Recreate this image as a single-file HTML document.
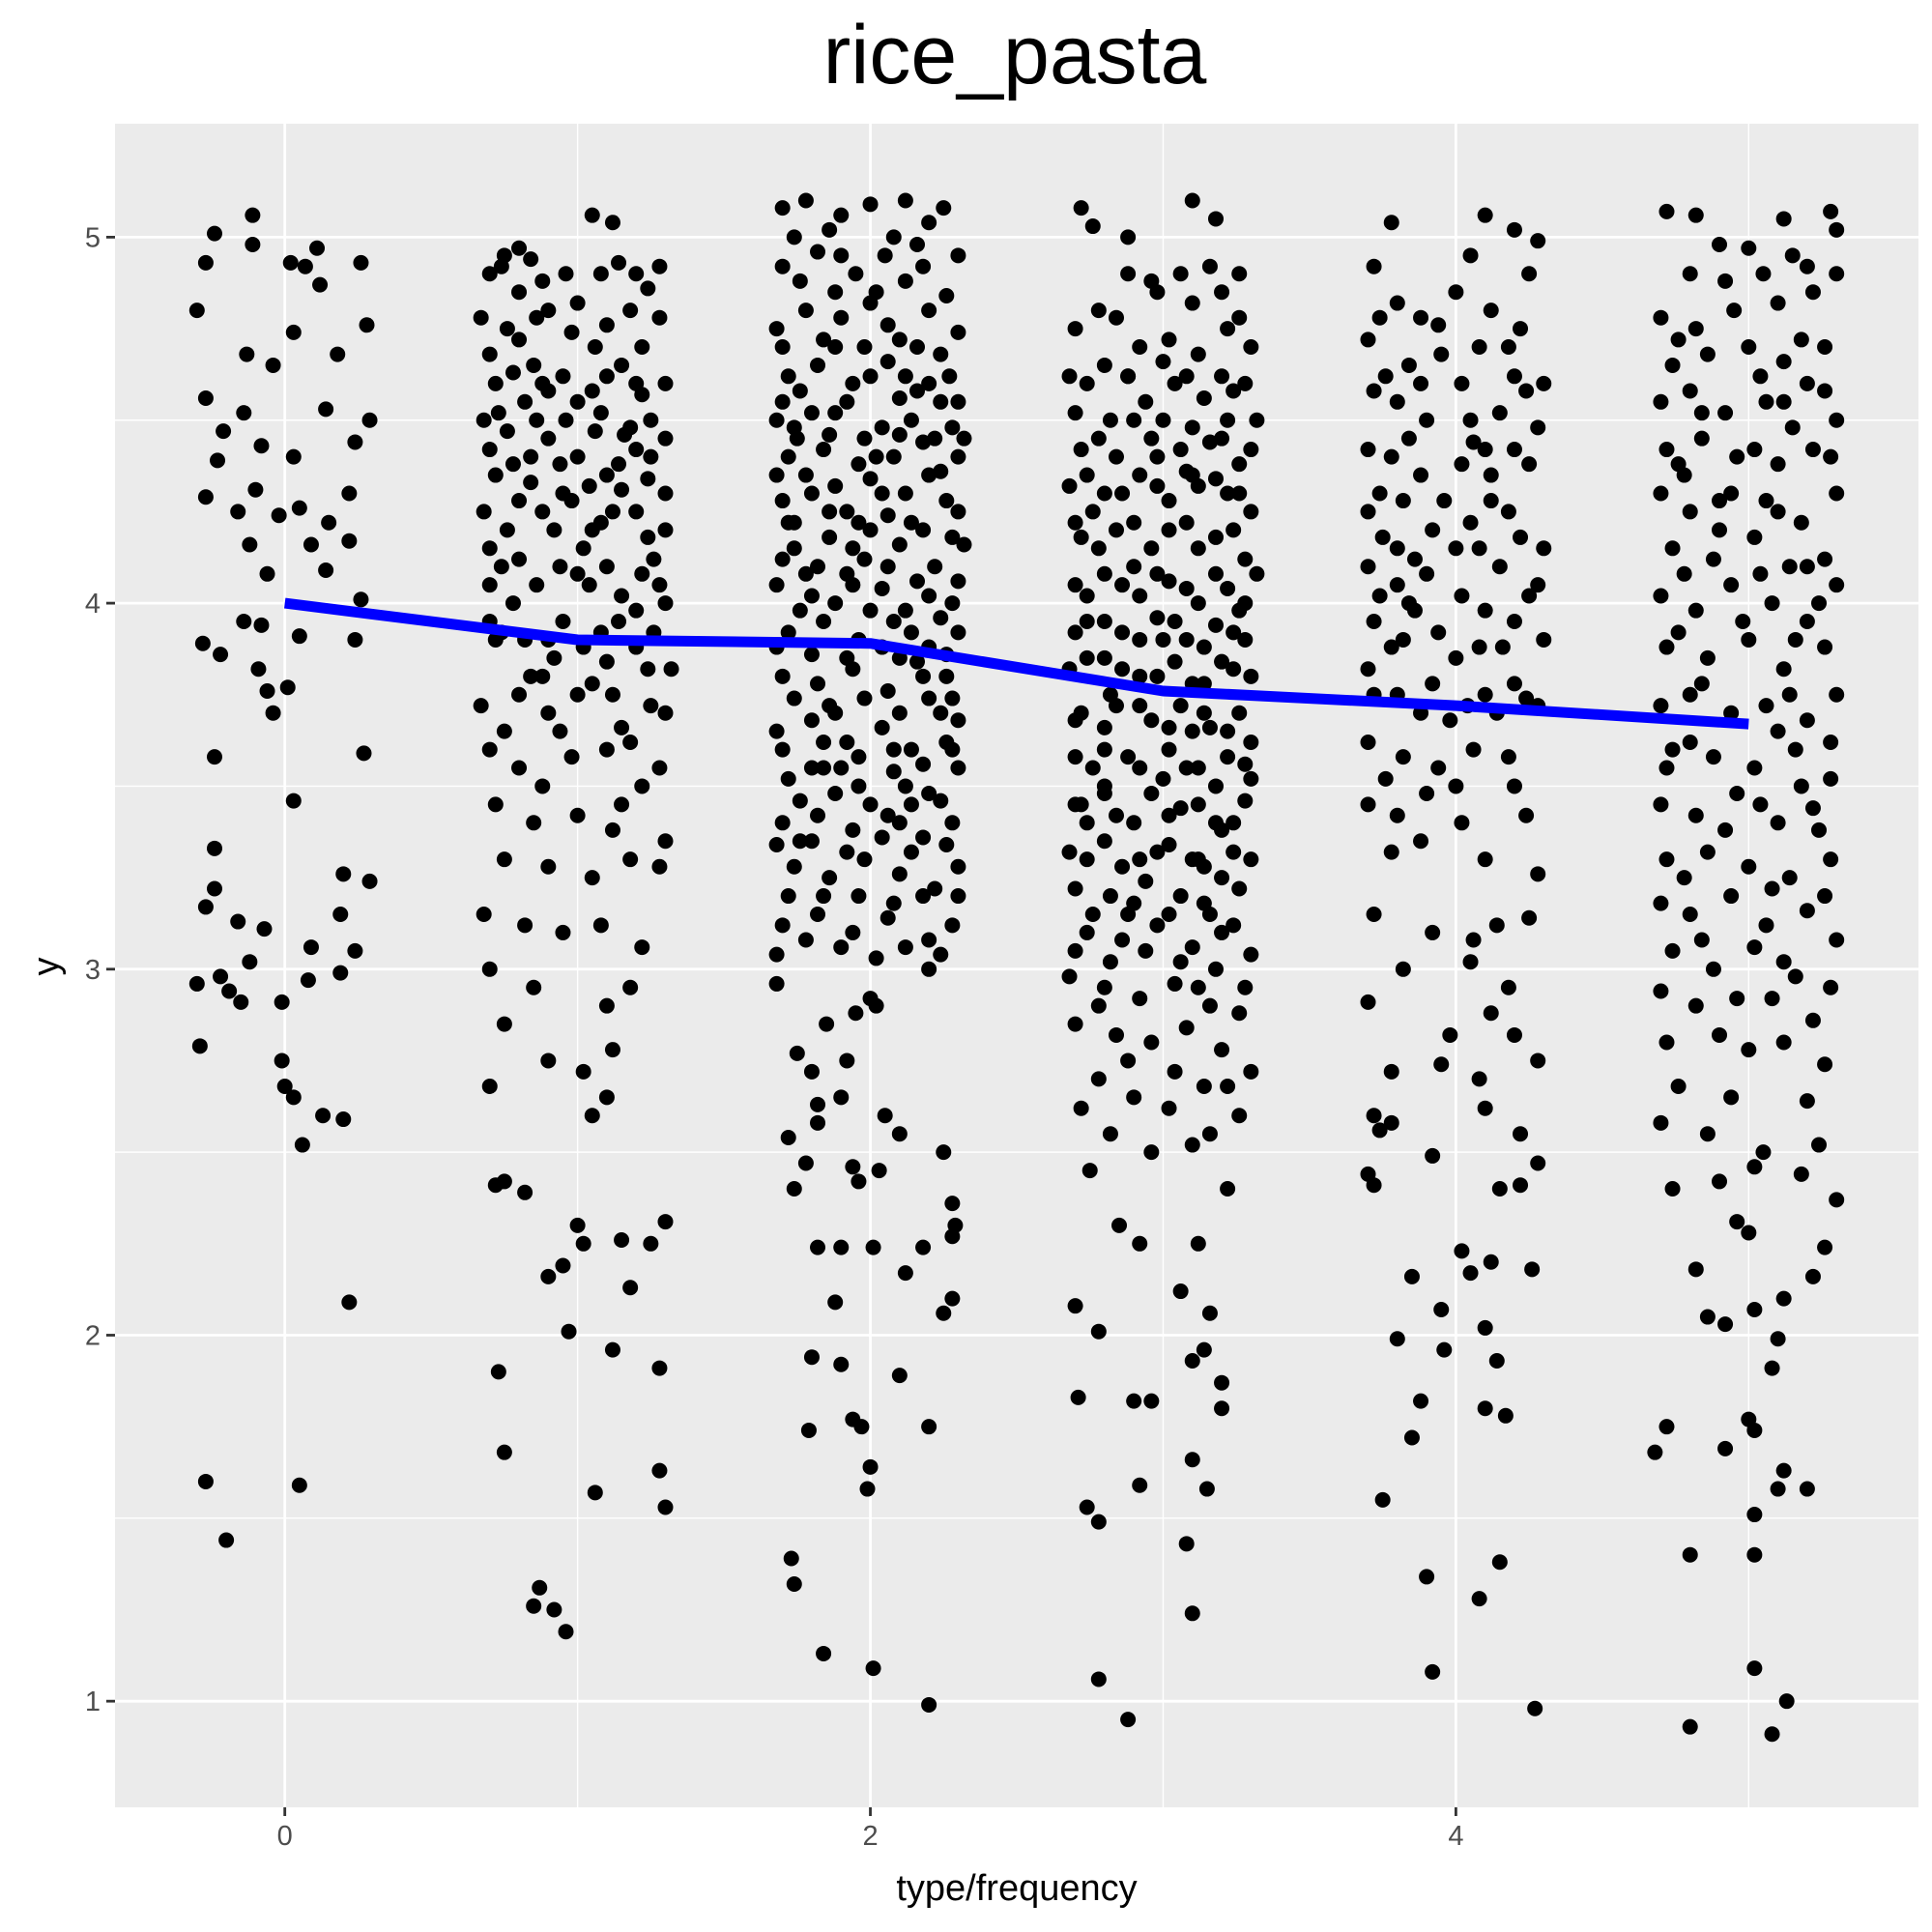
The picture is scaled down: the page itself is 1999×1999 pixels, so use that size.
<!DOCTYPE html>
<html><head><meta charset="utf-8"><style>
html,body{margin:0;padding:0;background:#fff}
svg{display:block}
text{font-family:"Liberation Sans",Arial,sans-serif}
</style></head><body>
<svg id="chart" width="1999" height="1999" viewBox="0 0 1999 1999" xmlns="http://www.w3.org/2000/svg">
<rect width="1999" height="1999" fill="#fff"/>
<text x="1050" y="86" font-size="86" text-anchor="middle" fill="#000">rice_pasta</text>
<rect x="119" y="128" width="1866" height="1742" fill="#ebebeb"/>
<g id="grid"></g>
<g id="points"></g>
<g id="smooth"></g>
<g id="axes"></g>
<text x="1052" y="1966" font-size="38" text-anchor="middle" fill="#000">type/frequency</text>
<text transform="translate(60,1000) rotate(-90)" font-size="38" text-anchor="middle" fill="#000">y</text>
</svg>
<script>
const xTicks=[0,2,4];
const xMinor=[1,3,5];
const yTicks=[1,2,3,4,5];
const yMinor=[1.5,2.5,3.5,4.5];
const smoothX=[0,1,2,3,4,5];
const smoothY=[4.0,3.9,3.89,3.76,3.72,3.67];
const groupX=[0,1,2,3,4,5];
const g0=[[-0.3,4.8],[-0.24,5.01],[-0.11,5.06],[-0.27,4.93],[-0.11,4.98],[0.02,4.93],[0.11,4.97],[0.07,4.92],[0.26,4.93],[0.12,4.87],[0.03,4.74],[0.28,4.76],[0.18,4.68],[-0.27,4.56],[-0.13,4.68],[-0.04,4.65],[-0.21,4.47],[-0.14,4.52],[-0.08,4.43],[0.03,4.4],[0.14,4.53],[0.29,4.5],[0.24,4.44],[-0.23,4.39],[-0.27,4.29],[-0.16,4.25],[-0.1,4.31],[-0.02,4.24],[0.05,4.26],[0.15,4.22],[0.22,4.3],[-0.12,4.16],[-0.06,4.08],[0.09,4.16],[0.14,4.09],[0.22,4.17],[0.26,4.01],[-0.28,3.89],[-0.22,3.86],[-0.14,3.95],[-0.08,3.94],[0.05,3.91],[0.24,3.9],[-0.09,3.82],[-0.06,3.76],[-0.04,3.7],[0.01,3.77],[-0.24,3.58],[0.27,3.59],[0.03,3.46],[-0.24,3.33],[-0.24,3.22],[-0.27,3.17],[-0.16,3.13],[-0.07,3.11],[0.09,3.06],[0.2,3.26],[0.29,3.24],[0.19,3.15],[0.24,3.05],[-0.12,3.02],[-0.22,2.98],[-0.3,2.96],[-0.19,2.94],[-0.15,2.91],[-0.01,2.91],[0.08,2.97],[0.19,2.99],[-0.29,2.79],[-0.01,2.75],[0,2.68],[0.03,2.65],[0.13,2.6],[0.2,2.59],[0.06,2.52],[0.22,2.09],[-0.27,1.6],[0.05,1.59],[-0.2,1.44]];
const g1=[[-0.3,4.9],[-0.25,4.95],[-0.2,4.97],[-0.12,4.88],[0.05,5.06],[0.12,5.04],[0.2,4.9],[0.28,4.92],[-0.33,4.78],[-0.2,4.72],[-0.1,4.8],[0,4.82],[0.1,4.76],[0.22,4.7],[0.3,4.6],[-0.28,4.6],[-0.18,4.55],[-0.05,4.62],[0.05,4.58],[0.15,4.65],[0.25,4.5],[-0.3,4.42],[-0.22,4.38],[-0.1,4.45],[0,4.4],[0.1,4.35],[0.2,4.42],[0.3,4.3],[-0.32,4.25],[-0.2,4.28],[-0.08,4.2],[0.02,4.15],[0.12,4.25],[0.24,4.18],[-0.26,4.1],[-0.14,4.05],[0,4.08],[0.15,4.02],[0.28,4.05],[-0.3,3.95],[-0.18,3.9],[-0.05,3.95],[0.08,3.92],[0.2,3.88],[0.32,3.82],[-0.33,3.72],[-0.2,3.75],[-0.1,3.7],[0.05,3.78],[0.15,3.66],[0.25,3.72],[-0.3,3.6],[-0.2,3.55],[-0.02,3.58],[0.1,3.6],[0.22,3.5],[-0.28,3.45],[-0.15,3.4],[0,3.42],[0.12,3.38],[0.3,3.35],[-0.25,3.3],[-0.1,3.28],[0.05,3.25],[0.18,3.3],[0.28,3.28],[-0.32,3.15],[-0.18,3.12],[-0.05,3.1],[0.08,3.12],[0.22,3.06],[-0.3,3.0],[-0.15,2.95],[0.1,2.9],[0.18,2.95],[-0.25,2.85],[-0.1,2.75],[0.02,2.72],[0.12,2.78],[-0.3,2.68],[0.05,2.6],[0.1,2.65],[-0.28,2.41],[-0.25,2.42],[-0.18,2.39],[-0.1,2.16],[-0.05,2.19],[0,2.3],[0.02,2.25],[0.15,2.26],[0.25,2.25],[0.3,2.31],[-0.27,1.9],[0.12,1.96],[-0.03,2.01],[0.18,2.13],[-0.25,1.68],[0.06,1.57],[0.28,1.63],[0.3,1.53],[-0.13,1.31],[-0.15,1.26],[-0.08,1.25],[-0.04,1.19],[0.28,1.91],[-0.2,4.85],[0.08,4.9],[-0.15,4.65],[0.18,4.48],[-0.05,4.3],[0.25,4.4],[-0.22,4.0],[0.1,4.1],[0.3,4.0],[-0.08,3.85],[0.2,3.98],[-0.25,3.65],[0.28,3.55],[-0.12,3.5],[0.15,3.45],[-0.27,4.52],[-0.1,4.58],[0.06,4.47],[0.22,4.57],[-0.16,4.33],[0.15,4.31],[-0.3,4.15],[0.05,4.2],[0.26,4.12],[-0.12,3.8],[0.1,3.84]];
const g1b=[[-0.26,4.92],[-0.16,4.94],[-0.04,4.9],[0.14,4.93],[0.24,4.86],[-0.3,4.68],[-0.24,4.75],[-0.14,4.78],[-0.02,4.74],[0.06,4.7],[0.18,4.8],[0.28,4.78],[-0.22,4.63],[-0.12,4.6],[0.0,4.55],[0.1,4.62],[0.2,4.6],[-0.32,4.5],[-0.24,4.47],[-0.14,4.5],[-0.04,4.5],[0.08,4.52],[0.16,4.46],[0.3,4.45],[-0.28,4.35],[-0.16,4.4],[-0.06,4.38],[0.04,4.32],[0.14,4.38],[0.24,4.34],[-0.24,4.2],[-0.12,4.25],[-0.02,4.28],[0.08,4.22],[0.2,4.25],[0.3,4.2],[-0.2,4.12],[-0.06,4.1],[0.04,4.05],[0.22,4.08],[-0.3,4.05],[-0.26,3.92],[-0.1,3.9],[0.02,3.88],[0.14,3.95],[0.26,3.92],[-0.16,3.8],[0.0,3.75],[0.12,3.75],[0.24,3.82],[-0.28,3.9],[0.18,3.62],[-0.06,3.65],[0.3,3.7]];
const g2=[[-0.3,5.08],[-0.22,5.1],[-0.1,5.06],[0.0,5.09],[0.12,5.1],[0.25,5.08],[-0.3,4.92],[-0.18,4.96],[-0.05,4.9],[0.05,4.95],[0.18,4.92],[0.3,4.95],[-0.32,4.75],[-0.22,4.8],[-0.1,4.78],[0.02,4.85],[0.1,4.72],[0.2,4.8],[0.3,4.74],[-0.28,4.62],[-0.18,4.65],[-0.06,4.6],[0.06,4.66],[0.16,4.58],[0.27,4.62],[-0.32,4.5],[-0.2,4.52],[-0.08,4.55],[0.04,4.48],[0.14,4.5],[0.24,4.55],[0.32,4.45],[-0.28,4.4],[-0.16,4.42],[-0.04,4.38],[0.08,4.4],[0.2,4.35],[0.3,4.4],[-0.3,4.28],[-0.2,4.3],[-0.08,4.25],[0.04,4.3],[0.14,4.22],[0.26,4.28],[-0.26,4.15],[-0.14,4.18],[-0.02,4.12],[0.1,4.16],[0.22,4.1],[0.32,4.16],[-0.32,4.05],[-0.2,4.02],[-0.08,4.08],[0.04,4.04],[0.16,4.06],[0.28,4.0],[-0.28,3.92],[-0.16,3.95],[-0.04,3.9],[0.08,3.95],[0.2,3.88],[0.3,3.92],[-0.3,3.8],[-0.18,3.78],[-0.06,3.82],[0.06,3.76],[0.18,3.8],[0.28,3.74],[-0.32,3.65],[-0.2,3.68],[-0.08,3.62],[0.04,3.66],[0.14,3.6],[0.26,3.62],[-0.28,3.52],[-0.16,3.55],[-0.04,3.5],[0.08,3.54],[0.2,3.48],[0.3,3.55],[-0.3,3.4],[-0.18,3.42],[-0.06,3.38],[0.06,3.42],[0.18,3.36],[0.28,3.4],[-0.26,3.28],[-0.14,3.25],[-0.02,3.3],[0.1,3.26],[0.22,3.22],[0.3,3.28],[-0.3,3.12],[-0.18,3.15],[-0.06,3.1],[0.06,3.14],[0.2,3.08],[0.28,3.12],[-0.32,3.04],[0.02,3.03],[0.2,3.0],[-0.32,2.96],[-0.15,2.85],[-0.05,2.88],[0.0,2.92],[0.02,2.9],[-0.25,2.77],[-0.2,2.72],[-0.08,2.75],[-0.1,2.65],[-0.18,2.63],[-0.18,2.58],[0.05,2.6],[0.1,2.55],[0.25,2.5],[-0.28,2.54],[-0.22,2.47],[-0.06,2.46],[-0.04,2.42],[0.03,2.45],[0.28,2.36],[0.29,2.3],[0.28,2.27],[-0.26,2.4],[-0.18,2.24],[-0.1,2.24],[0.01,2.24],[0.12,2.17],[0.18,2.24],[0.28,2.1],[0.25,2.06],[-0.12,2.09],[-0.2,1.94],[-0.1,1.92],[0.1,1.89],[-0.21,1.74],[-0.06,1.77],[-0.03,1.75],[0.2,1.75],[0.0,1.64],[-0.01,1.58],[-0.27,1.39],[-0.26,1.32],[-0.16,1.13],[0.01,1.09],[0.2,0.99],[-0.25,4.45],[0.12,4.62],[-0.12,4.7],[0.22,4.45],[-0.22,4.08],[0.12,3.98],[-0.12,3.7],[0.24,3.7],[-0.24,3.35],[0.14,3.45],[0.0,4.2],[-0.28,4.22],[0.3,4.25],[-0.1,3.55],[0.1,3.85]];
const g2b=[[-0.26,5.0],[-0.14,5.02],[0.08,5.0],[0.2,5.04],[-0.24,4.88],[-0.12,4.85],[0.0,4.82],[0.12,4.88],[0.26,4.84],[-0.3,4.7],[-0.16,4.72],[-0.02,4.7],[0.06,4.76],[0.16,4.7],[0.24,4.68],[-0.24,4.58],[-0.12,4.52],[0.0,4.62],[0.1,4.56],[0.2,4.6],[0.3,4.55],[-0.26,4.48],[-0.14,4.46],[-0.02,4.45],[0.1,4.46],[0.18,4.44],[0.28,4.48],[-0.32,4.35],[-0.22,4.35],[-0.12,4.32],[0.0,4.34],[0.12,4.3],[0.24,4.36],[-0.26,4.22],[-0.14,4.25],[-0.04,4.22],[0.06,4.24],[0.18,4.2],[0.28,4.18],[-0.3,4.12],[-0.18,4.1],[-0.06,4.05],[0.06,4.1],[0.2,4.02],[0.3,4.06],[-0.24,3.98],[-0.12,4.0],[0.0,3.98],[0.14,3.92],[0.24,3.96],[-0.32,3.88],[-0.2,3.86],[-0.08,3.85],[0.04,3.88],[0.16,3.84],[0.26,3.86],[-0.26,3.74],[-0.14,3.72],[-0.02,3.74],[0.1,3.7],[0.2,3.74],[0.3,3.68],[-0.3,3.6],[-0.16,3.62],[-0.04,3.58],[0.08,3.6],[0.18,3.56],[0.28,3.6],[-0.24,3.46],[-0.12,3.48],[0.0,3.45],[0.12,3.5],[0.24,3.46],[-0.32,3.34],[-0.2,3.35],[-0.08,3.32],[0.04,3.36],[0.14,3.32],[0.26,3.34],[-0.28,3.2],[-0.16,3.2],[-0.04,3.2],[0.08,3.18],[0.18,3.2],[0.3,3.2],[-0.22,3.08],[-0.1,3.06],[0.12,3.06],[0.24,3.04],[-0.3,4.55],[0.02,4.4],[-0.06,4.15],[0.26,3.8],[-0.2,3.55],[0.1,3.4],[-0.1,4.95],[0.16,4.98]];
const g3=[[-0.28,5.08],[-0.24,5.03],[-0.12,5.0],[0.1,5.1],[0.18,5.05],[-0.3,4.75],[-0.22,4.8],[-0.12,4.9],[-0.04,4.88],[0.06,4.9],[0.16,4.92],[0.26,4.9],[-0.32,4.62],[-0.2,4.65],[-0.08,4.7],[0.02,4.72],[0.12,4.68],[0.22,4.75],[0.3,4.7],[-0.3,4.52],[-0.18,4.5],[-0.06,4.55],[0.04,4.6],[0.14,4.56],[0.24,4.58],[0.32,4.5],[-0.28,4.42],[-0.16,4.4],[-0.04,4.45],[0.06,4.42],[0.16,4.44],[0.26,4.38],[-0.32,4.32],[-0.2,4.3],[-0.08,4.35],[0.02,4.28],[0.12,4.32],[0.22,4.3],[0.3,4.25],[-0.28,4.18],[-0.16,4.2],[-0.04,4.15],[0.08,4.22],[0.18,4.18],[0.28,4.12],[-0.3,4.05],[-0.2,4.08],[-0.08,4.02],[0.02,4.06],[0.12,4.0],[0.22,4.04],[0.32,4.08],[-0.26,3.95],[-0.14,3.92],[-0.02,3.96],[0.08,3.9],[0.18,3.94],[0.28,3.9],[-0.32,3.82],[-0.2,3.85],[-0.08,3.8],[0.04,3.84],[0.14,3.78],[0.24,3.82],[-0.28,3.7],[-0.16,3.72],[-0.04,3.68],[0.06,3.72],[0.16,3.66],[0.26,3.7],[-0.3,3.58],[-0.2,3.6],[-0.08,3.55],[0.02,3.6],[0.12,3.55],[0.22,3.58],[0.3,3.52],[-0.28,3.45],[-0.16,3.42],[-0.04,3.48],[0.06,3.44],[0.18,3.4],[0.28,3.46],[-0.32,3.32],[-0.2,3.35],[-0.08,3.3],[0.02,3.34],[0.14,3.28],[0.24,3.32],[-0.3,3.22],[-0.18,3.2],[-0.06,3.24],[0.06,3.2],[0.16,3.15],[0.26,3.22],[-0.26,3.1],[-0.14,3.08],[-0.02,3.12],[0.1,3.06],[0.2,3.1],[0.3,3.04],[-0.32,2.98],[-0.2,2.95],[-0.08,2.92],[0.04,2.96],[0.16,2.9],[0.28,2.95],[-0.3,2.85],[-0.16,2.82],[-0.04,2.8],[0.08,2.84],[0.2,2.78],[0.3,2.72],[-0.22,2.7],[-0.1,2.65],[0.02,2.62],[0.14,2.68],[0.26,2.6],[-0.18,2.55],[-0.04,2.5],[0.1,2.52],[0.22,2.4],[-0.25,2.45],[-0.15,2.3],[-0.08,2.25],[0.12,2.25],[0.06,2.12],[0.16,2.06],[-0.3,2.08],[-0.22,2.01],[0.14,1.96],[0.1,1.93],[0.2,1.87],[0.2,1.8],[-0.29,1.83],[-0.1,1.82],[-0.04,1.82],[-0.26,1.53],[-0.22,1.49],[-0.08,1.59],[0.1,1.66],[0.15,1.58],[0.08,1.43],[0.1,1.24],[-0.22,1.06],[-0.12,0.95],[-0.12,4.62],[0.2,4.45],[-0.24,4.25],[0.1,4.35],[-0.1,4.1],[0.26,3.98],[-0.18,3.75],[0.1,3.65],[-0.2,3.5],[0.2,3.38],[-0.12,3.15],[0.12,3.3],[0.0,3.9],[-0.02,4.4],[0.3,3.62],[-0.26,3.4]];
const g3b=[[-0.02,4.85],[0.1,4.82],[0.2,4.85],[-0.16,4.78],[0.26,4.78],[-0.26,4.6],[-0.12,4.62],[0.0,4.66],[0.08,4.62],[0.2,4.62],[0.28,4.6],[-0.22,4.45],[-0.1,4.5],[0.0,4.5],[0.1,4.48],[0.22,4.5],[0.3,4.42],[-0.26,4.35],[-0.14,4.3],[-0.02,4.32],[0.08,4.36],[0.18,4.34],[0.26,4.3],[-0.3,4.22],[-0.22,4.15],[-0.1,4.22],[0.02,4.2],[0.12,4.15],[0.24,4.2],[-0.26,4.02],[-0.14,4.05],[-0.02,4.08],[0.08,4.04],[0.18,4.08],[0.28,4.0],[-0.3,3.92],[-0.2,3.95],[-0.08,3.9],[0.04,3.95],[0.14,3.88],[0.24,3.92],[-0.26,3.85],[-0.14,3.82],[-0.02,3.8],[0.1,3.78],[0.2,3.84],[0.3,3.8],[-0.3,3.68],[-0.2,3.66],[-0.08,3.72],[0.02,3.66],[0.14,3.7],[0.22,3.65],[-0.24,3.55],[-0.12,3.58],[0.0,3.52],[0.08,3.55],[0.18,3.5],[0.28,3.56],[-0.3,3.45],[-0.2,3.48],[-0.1,3.4],[0.02,3.42],[0.12,3.45],[0.24,3.4],[-0.26,3.3],[-0.14,3.28],[-0.02,3.32],[0.1,3.3],[0.2,3.25],[0.3,3.3],[-0.24,3.15],[-0.1,3.18],[0.02,3.15],[0.14,3.18],[0.24,3.12],[-0.3,3.05],[-0.18,3.02],[-0.06,3.05],[0.06,3.02],[0.18,3.0],[-0.22,2.9],[0.12,2.95],[0.26,2.88],[-0.12,2.75],[0.04,2.72],[0.22,2.68],[-0.28,2.62],[0.16,2.55]];
const g4=[[-0.22,5.04],[0.1,5.06],[0.2,5.02],[0.28,4.99],[-0.28,4.92],[0.05,4.95],[0.25,4.9],[-0.2,4.82],[-0.12,4.78],[0.0,4.85],[0.12,4.8],[0.22,4.75],[-0.3,4.72],[-0.16,4.65],[-0.05,4.68],[0.08,4.7],[0.2,4.62],[0.3,4.6],[-0.28,4.58],[-0.2,4.55],[-0.1,4.5],[0.05,4.5],[0.15,4.52],[0.28,4.48],[-0.3,4.42],[-0.22,4.4],[-0.12,4.35],[0.02,4.38],[0.12,4.35],[0.25,4.38],[-0.3,4.25],[-0.18,4.28],[-0.08,4.2],[0.05,4.22],[0.18,4.25],[0.3,4.15],[-0.3,4.1],[-0.2,4.05],[-0.1,4.08],[0.02,4.02],[0.15,4.1],[0.25,4.02],[-0.28,3.95],[-0.18,3.9],[-0.06,3.92],[0.08,3.88],[0.2,3.95],[0.3,3.9],[-0.3,3.82],[-0.2,3.75],[-0.08,3.78],[0.04,3.72],[0.14,3.7],[0.24,3.74],[-0.3,3.62],[-0.18,3.58],[-0.06,3.55],[0.06,3.6],[0.18,3.58],[-0.3,3.45],[-0.2,3.42],[-0.1,3.48],[0.02,3.4],[0.24,3.42],[-0.22,3.32],[-0.12,3.35],[0.1,3.3],[0.28,3.26],[-0.28,3.15],[-0.08,3.1],[0.06,3.08],[0.14,3.12],[0.25,3.14],[-0.18,3.0],[0.05,3.02],[0.18,2.95],[-0.3,2.91],[0.12,2.88],[0.2,2.82],[-0.22,2.72],[-0.05,2.74],[-0.02,2.82],[0.08,2.7],[0.28,2.75],[-0.28,2.6],[-0.26,2.56],[-0.22,2.58],[-0.08,2.49],[0.1,2.62],[0.22,2.55],[-0.3,2.44],[-0.28,2.41],[0.15,2.4],[0.28,2.47],[0.22,2.41],[-0.15,2.16],[0.02,2.23],[0.05,2.17],[0.12,2.2],[0.26,2.18],[-0.05,2.07],[0.1,2.02],[-0.2,1.99],[-0.04,1.96],[0.14,1.93],[-0.12,1.82],[-0.15,1.72],[0.1,1.8],[0.17,1.78],[-0.25,1.55],[-0.1,1.34],[0.08,1.28],[0.15,1.38],[-0.08,1.08],[0.27,0.98],[-0.12,4.6],[0.1,4.42],[-0.25,4.18],[0.08,4.15],[-0.14,3.98],[0.2,3.78],[-0.02,3.68]];
const g4b=[[-0.26,4.78],[-0.06,4.76],[0.18,4.7],[-0.24,4.62],[0.02,4.6],[0.24,4.58],[-0.16,4.45],[0.06,4.44],[0.2,4.42],[-0.26,4.3],[-0.04,4.28],[0.12,4.28],[-0.2,4.15],[-0.14,4.12],[0.0,4.15],[0.22,4.18],[-0.26,4.02],[-0.16,4.0],[0.1,3.98],[0.28,4.05],[-0.22,3.88],[0.0,3.85],[0.16,3.88],[-0.28,3.75],[-0.12,3.7],[0.1,3.75],[0.28,3.72],[-0.24,3.52],[0.0,3.5],[0.2,3.5]];
const g5=[[-0.28,5.07],[-0.18,5.06],[0.12,5.05],[0.28,5.07],[-0.1,4.98],[0.0,4.97],[0.15,4.95],[0.3,5.02],[-0.2,4.9],[-0.08,4.88],[0.05,4.9],[0.2,4.92],[0.3,4.9],[-0.3,4.78],[-0.18,4.75],[-0.05,4.8],[0.1,4.82],[0.22,4.85],[-0.26,4.65],[-0.14,4.68],[0.0,4.7],[0.12,4.66],[0.26,4.7],[-0.3,4.55],[-0.2,4.58],[-0.08,4.52],[0.06,4.55],[0.2,4.6],[0.3,4.5],[-0.28,4.42],[-0.16,4.45],[-0.04,4.4],[0.1,4.38],[0.22,4.42],[-0.3,4.3],[-0.2,4.25],[-0.06,4.3],[0.06,4.28],[0.18,4.22],[0.3,4.3],[-0.26,4.15],[-0.12,4.12],[0.02,4.18],[0.14,4.1],[0.26,4.12],[-0.3,4.02],[-0.18,3.98],[-0.06,4.05],[0.08,4.0],[0.2,3.95],[0.3,4.05],[-0.28,3.88],[-0.14,3.85],[0.0,3.9],[0.12,3.82],[0.26,3.88],[-0.3,3.72],[-0.2,3.75],[-0.06,3.7],[0.06,3.72],[0.2,3.68],[0.3,3.75],[-0.26,3.6],[-0.12,3.58],[0.02,3.55],[0.16,3.6],[0.28,3.52],[-0.3,3.45],[-0.18,3.42],[-0.04,3.48],[0.1,3.4],[0.22,3.44],[-0.28,3.3],[-0.14,3.32],[0.0,3.28],[0.14,3.25],[0.28,3.3],[-0.3,3.18],[-0.2,3.15],[-0.06,3.2],[0.06,3.12],[0.2,3.16],[0.3,3.08],[-0.26,3.05],[-0.12,3.0],[0.02,3.06],[0.16,2.98],[-0.3,2.94],[-0.18,2.9],[0.08,2.92],[0.22,2.86],[-0.28,2.8],[-0.1,2.82],[0.0,2.78],[0.12,2.8],[0.26,2.74],[-0.24,2.68],[-0.06,2.65],[0.2,2.64],[-0.3,2.58],[-0.14,2.55],[0.05,2.5],[0.24,2.52],[-0.26,2.4],[-0.1,2.42],[0.02,2.46],[0.18,2.44],[0.3,2.37],[-0.04,2.31],[0.0,2.28],[-0.18,2.18],[0.26,2.24],[0.22,2.16],[0.12,2.1],[-0.14,2.05],[-0.08,2.03],[0.02,2.07],[0.1,1.99],[0.08,1.91],[-0.28,1.75],[-0.32,1.68],[0.0,1.77],[0.02,1.74],[-0.08,1.69],[0.12,1.63],[0.1,1.58],[0.2,1.58],[0.02,1.51],[-0.2,1.4],[0.02,1.4],[0.02,1.09],[-0.2,0.93],[0.08,0.91],[0.13,1.0],[-0.22,4.35],[0.15,4.48],[-0.1,4.2],[0.24,4.0],[-0.2,3.62],[0.1,3.65],[-0.08,3.38],[0.18,3.5]];
const g5b=[[-0.24,4.72],[0.04,4.62],[0.18,4.72],[-0.16,4.52],[0.12,4.55],[0.26,4.58],[-0.24,4.38],[0.02,4.42],[0.28,4.4],[-0.1,4.28],[0.1,4.25],[-0.22,4.08],[0.04,4.08],[0.2,4.1],[-0.24,3.92],[-0.02,3.95],[0.16,3.9],[-0.16,3.78],[0.14,3.75],[0.28,3.62],[-0.28,3.55],[0.04,3.45],[0.24,3.38],[-0.22,3.25],[0.08,3.22],[0.26,3.2],[-0.16,3.08],[0.12,3.02],[-0.04,2.92],[0.28,2.95]];
const groups=[g0,g1.concat(g1b),g2.concat(g2b),g3.concat(g3b),g4.concat(g4b),g5.concat(g5b)];

const NS="http://www.w3.org/2000/svg";
const PL=119,PR=1985,PT=128,PB=1870;
const X0=-0.58,X1=5.58,Y0=0.71,Y1=5.31;
function sx(v){return PL+(v-X0)/(X1-X0)*(PR-PL);}
function sy(v){return PB-(v-Y0)/(Y1-Y0)*(PB-PT);}
function mk(tag,attrs,parent){const e=document.createElementNS(NS,tag);for(const k in attrs)e.setAttribute(k,attrs[k]);parent.appendChild(e);return e;}

const grid=document.getElementById('grid');
yMinor.forEach(v=>{const l=mk('line',{x1:PL,x2:PR,y1:sy(v),y2:sy(v),stroke:'#fff','stroke-width':1.4},grid);

});
xMinor.forEach(v=>{const l=mk('line',{x1:sx(v),x2:sx(v),y1:PT,y2:PB,stroke:'#fff','stroke-width':1.4},grid);

});
yTicks.forEach(v=>{const l=mk('line',{x1:PL,x2:PR,y1:sy(v),y2:sy(v),stroke:'#fff','stroke-width':2.8},grid);

});
xTicks.forEach(v=>{const l=mk('line',{x1:sx(v),x2:sx(v),y1:PT,y2:PB,stroke:'#fff','stroke-width':2.8},grid);

});

const pts=document.getElementById('points');
groups.forEach((g,gi)=>{g.forEach(p=>{const c=mk('circle',{cx:sx(groupX[gi]+p[0]),cy:sy(p[1]),r:8,fill:'#000'},pts);

});});

const sm=document.getElementById('smooth');
const d=smoothX.map((x,i)=>(i?'L':'M')+sx(x).toFixed(1)+' '+sy(smoothY[i]).toFixed(1)).join(' ');
const path=mk('path',{d:d,fill:'none',stroke:'#0000ff','stroke-width':11,'stroke-linejoin':'round'},sm);



const ax=document.getElementById('axes');
yTicks.forEach(v=>{const t=mk('line',{x1:PL-9,x2:PL,y1:sy(v),y2:sy(v),stroke:'#333','stroke-width':2.8},ax);


const tx=mk('text',{x:PL-15,y:sy(v)+10,'font-size':29,'text-anchor':'end',fill:'#4d4d4d'},ax);
tx.textContent=v;

});
xTicks.forEach(v=>{const t=mk('line',{x1:sx(v),x2:sx(v),y1:PB,y2:PB+9,stroke:'#333','stroke-width':2.8},ax);


const tx=mk('text',{x:sx(v),y:PB+39,'font-size':29,'text-anchor':'middle',fill:'#4d4d4d'},ax);
tx.textContent=v;

});
</script>
</body></html>
